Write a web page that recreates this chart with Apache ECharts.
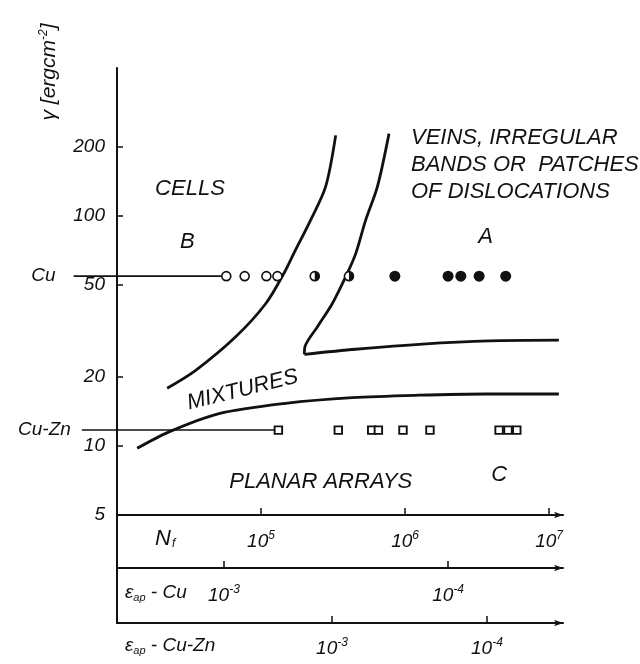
<!DOCTYPE html>
<html>
<head>
<meta charset="utf-8">
<script src="https://cdn.jsdelivr.net/npm/echarts@6/dist/echarts.min.js"></script>
<style>
  html, body { margin: 0; padding: 0; background: #fff; }
  #chart { width: 640px; height: 664px; }
</style>
</head>
<body>
<div id="chart"></div>
<script>
// Fatigue life N_f of Cu and Cu-Zn specimens against stacking-fault energy
const cuOpenN   = [5.74e4, 7.7e4, 1.09e5, 1.30e5];
const cuHalfN   = [2.36e5, 4.08e5];
const cuFilledN = [8.5e5, 1.99e6, 2.44e6, 3.27e6, 5.0e6];
const cuZnN     = [1.32e5, 3.44e5, 5.87e5, 6.53e5, 9.68e5, 1.49e6, 4.50e6, 5.19e6, 5.97e6];
const gammaCu   = 54.7;
const gammaCuZn = 11.7;
const cuLineStartN   = 5.0e3;
const cuZnLineStartN = 5.7e3;

// Boundaries between dislocation structures, [N_f, gamma]
const cellsBoundary = [[2.23e4, 17.8], [3.52e4, 21.3], [6.67e4, 29.8], [1.08e5, 41.6], [1.44e5, 56.2],
                       [1.69e5, 68.7], [2.21e5, 95.9], [2.81e5, 134], [3.30e5, 224]];
const veinsBoundaryUpper = [[2.0e5, 25.0], [2.02e5, 27.0], [2.46e5, 32.9], [3.13e5, 41.6], [3.97e5, 56.2],
                            [4.55e5, 68.7], [5.33e5, 95.9], [6.43e5, 134], [7.74e5, 228]];
const veinsBoundaryLower = [[2.0e5, 25.0], [4.55e5, 26.3], [1.32e6, 27.7], [3.83e6, 28.6], [1.17e7, 28.8]];
const planarBoundary = [[1.38e4, 9.75], [2.30e4, 11.5], [5.11e4, 13.8], [1.48e5, 15.3], [4.31e5, 16.2],
                        [1.25e6, 16.6], [3.63e6, 16.8], [1.17e7, 16.8]];

// Tick values
const gammaTicks = [5, 10, 20, 50, 100, 200];
const nTicks = [1e5, 1e6, 1e7];
const epsTicks = [1e-3, 1e-4];

const INK = '#111111';
const FONT = "'Liberation Sans', Arial, sans-serif";

// Shared N_f and gamma ranges of the diagram
const N_MAX = 1.25e7, G_MIN = 5, G_MAX = 440;

const supRich = { sup: { fontSize: 12, fontStyle: 'italic', fontFamily: FONT, color: INK, padding: [0, 0, 11, 0] } };
const powerLabel = v => '10{sup|' + Math.round(Math.log10(v)) + '}';

function bottomLogAxis(opts, ticks, margin) {
  return Object.assign({
    gridIndex: 0,
    type: 'log',
    position: 'bottom',
    axisLine: { onZero: false, symbol: ['none', 'arrow'], symbolSize: [5, 9], lineStyle: { color: INK, width: 2 } },
    axisTick: { show: true, inside: true, length: 7, customValues: ticks, lineStyle: { color: INK, width: 1.5 } },
    axisLabel: {
      customValues: ticks, margin: margin, color: INK, fontSize: 19, fontStyle: 'italic', fontFamily: FONT,
      formatter: powerLabel, rich: supRich
    },
    splitLine: { show: false },
    minorTick: { show: false }
  }, opts);
}

const xAxes = [
  bottomLogAxis({ min: 1e4, max: N_MAX }, nTicks, 15),
  bottomLogAxis({ inverse: true, min: 3.07e-5, max: 3.0e-3, offset: 53 }, epsTicks, 16),
  bottomLogAxis({ inverse: true, min: 3.23e-5, max: 0.0244, offset: 108 }, epsTicks, 14),
  { gridIndex: 1, type: 'value', min: 0, max: 1, show: false },
  // same N_f scale, widened to the left so the material reference lines can start before the gamma axis
  { gridIndex: 2, type: 'log', min: 4e3, max: N_MAX, show: false }
];

const yAxes = [
  {
    gridIndex: 0, type: 'log', min: G_MIN, max: G_MAX,
    axisLine: { onZero: false, lineStyle: { color: INK, width: 2 } },
    axisTick: { show: true, inside: true, length: 6, customValues: gammaTicks, lineStyle: { color: INK, width: 1.5 } },
    axisLabel: { customValues: gammaTicks, margin: 12, color: INK, fontSize: 19, fontStyle: 'italic', fontFamily: FONT },
    splitLine: { show: false },
    minorTick: { show: false }
  },
  {
    gridIndex: 1, type: 'value', min: 0, max: 1,
    axisLine: { show: true, onZero: false, lineStyle: { color: INK, width: 2 } },
    axisTick: { show: false }, axisLabel: { show: false }, splitLine: { show: false }
  },
  { gridIndex: 2, type: 'log', min: G_MIN, max: G_MAX, show: false }
];

function boundary(points) {
  return {
    type: 'line', xAxisIndex: 0, yAxisIndex: 0, data: points,
    smooth: 0.3, symbol: 'none', z: 3,
    lineStyle: { color: INK, width: 2.8 }
  };
}

const textStyle = { color: INK, fontSize: 22, fontStyle: 'italic', fontFamily: FONT };

function regionText(text, n, g, extra) {
  return {
    value: [n, g],
    label: Object.assign({ show: true, position: 'inside', formatter: text }, textStyle, extra || {})
  };
}

const option = {
  backgroundColor: '#ffffff',
  animation: false,
  grid: [
    { left: 117, top: 68, width: 446, height: 447 },
    { left: 117, top: 515, width: 446, height: 108 },
    { left: 59.7, top: 68, width: 503.3, height: 447 }
  ],
  xAxis: xAxes,
  yAxis: yAxes,
  graphic: [
    {
      type: 'text', x: 49, y: 72, rotation: Math.PI / 2,
      style: {
        text: 'γ [ergcm{sup|-2}]', align: 'center', verticalAlign: 'middle',
        fill: INK, fontSize: 21, fontStyle: 'italic', fontFamily: FONT,
        rich: { sup: { fontSize: 12, fontStyle: 'italic', fontFamily: FONT, fill: INK, padding: [0, 0, 10, 0] } }
      }
    },
    {
      type: 'text', x: 155, y: 539,
      style: {
        text: 'N{sub|f}', verticalAlign: 'middle',
        fill: INK, fontSize: 22, fontStyle: 'italic', fontFamily: FONT,
        rich: { sub: { fontSize: 12, fontStyle: 'italic', fontFamily: FONT, fill: INK, padding: [10, 0, 0, 1] } }
      }
    },
    {
      type: 'text', x: 125, y: 593,
      style: {
        text: 'ε{sub|ap} - Cu', verticalAlign: 'middle',
        fill: INK, fontSize: 19, fontStyle: 'italic', fontFamily: FONT,
        rich: { sub: { fontSize: 11, fontStyle: 'italic', fontFamily: FONT, fill: INK, padding: [10, 0, 0, 0] } }
      }
    },
    {
      type: 'text', x: 125, y: 646,
      style: {
        text: 'ε{sub|ap} - Cu-Zn', verticalAlign: 'middle',
        fill: INK, fontSize: 19, fontStyle: 'italic', fontFamily: FONT,
        rich: { sub: { fontSize: 11, fontStyle: 'italic', fontFamily: FONT, fill: INK, padding: [10, 0, 0, 0] } }
      }
    }
  ],
  series: [
    boundary(cellsBoundary),
    boundary(veinsBoundaryUpper),
    boundary(veinsBoundaryLower),
    boundary(planarBoundary),
    {
      // reference line for Cu up to the first specimen
      type: 'line', xAxisIndex: 4, yAxisIndex: 2, symbol: 'none', z: 2,
      data: [[cuLineStartN, gammaCu], [cuOpenN[0], gammaCu]],
      lineStyle: { color: INK, width: 1.8 }
    },
    {
      // reference line for Cu-Zn up to the first specimen
      type: 'line', xAxisIndex: 4, yAxisIndex: 2, symbol: 'none', z: 2,
      data: [[cuZnLineStartN, gammaCuZn], [cuZnN[0], gammaCuZn]],
      lineStyle: { color: INK, width: 1.5 }
    },
    {
      type: 'scatter', xAxisIndex: 0, yAxisIndex: 0, z: 4,
      data: cuOpenN.concat(cuHalfN).map(n => [n, gammaCu]),
      symbol: 'circle', symbolSize: 9,
      itemStyle: { color: '#fff', borderColor: INK, borderWidth: 1.6, opacity: 1 }
    },
    {
      type: 'scatter', xAxisIndex: 0, yAxisIndex: 0, z: 5,
      data: cuHalfN.map(n => [n, gammaCu]),
      symbol: 'path://M0,0 A10,10 0 0,1 0,20 Z', symbolSize: [5, 10], symbolOffset: [2.5, 0],
      itemStyle: { color: INK, opacity: 1 }
    },
    {
      type: 'scatter', xAxisIndex: 0, yAxisIndex: 0, z: 4,
      data: cuFilledN.map(n => [n, gammaCu]),
      symbol: 'circle', symbolSize: 11,
      itemStyle: { color: INK, opacity: 1 }
    },
    {
      type: 'scatter', xAxisIndex: 0, yAxisIndex: 0, z: 4,
      data: cuZnN.map(n => [n, gammaCuZn]),
      symbol: 'rect', symbolSize: 7.5,
      itemStyle: { color: '#fff', borderColor: INK, borderWidth: 1.9, opacity: 1 }
    },
    {
      // region names and material labels
      type: 'scatter', xAxisIndex: 4, yAxisIndex: 2, z: 6,
      symbolSize: 0, silent: true,
      itemStyle: { opacity: 1 },
      data: [
        regionText('CELLS', 3.21e4, 131),
        regionText('B', 3.08e4, 77.1),
        regionText('A', 3.63e6, 81.1),
        regionText('C', 4.50e6, 7.46),
        regionText('PLANAR ARRAYS', 2.60e5, 6.98),
        regionText('MIXTURES', 7.45e4, 17.5, { rotate: 14 }),
        regionText('VEINS, IRREGULAR\nBANDS OR  PATCHES\nOF DISLOCATIONS', 1.10e6, 167,
          { position: 'right', distance: 0, align: 'left', lineHeight: 27 }),
        regionText('Cu', cuLineStartN, gammaCu, { position: 'left', distance: 18, fontSize: 19 }),
        regionText('Cu-Zn', cuZnLineStartN, gammaCuZn, { position: 'left', distance: 11, fontSize: 19 })
      ]
    }
  ]
};

const chart = echarts.init(document.getElementById('chart'), null, { renderer: 'canvas' });
chart.setOption(option);
</script>
</body>
</html>
